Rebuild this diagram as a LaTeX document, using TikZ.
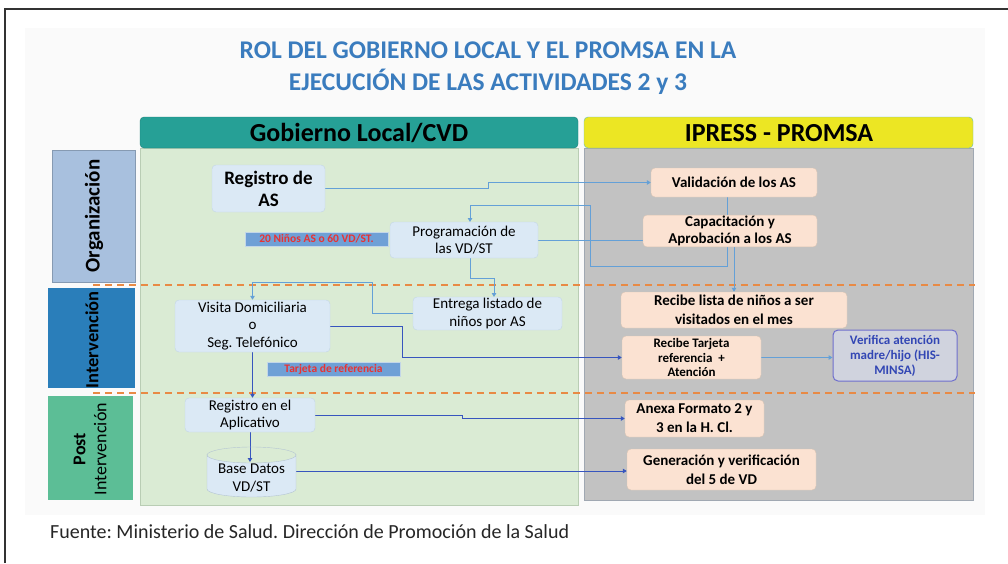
\documentclass[tikz,border=0pt]{standalone}
\usepackage{fontspec}
\setmainfont{Carlito}
\frenchspacing
\usetikzlibrary{arrows.meta,positioning}
\definecolor{tealh}{RGB}{38,160,150}
\definecolor{greenb}{RGB}{218,235,212}
\definecolor{greenbd}{RGB}{185,205,180}
\definecolor{yellowh}{RGB}{236,230,35}
\definecolor{grayb}{RGB}{194,194,194}
\definecolor{graybd}{RGB}{160,168,178}
\definecolor{lbfill}{RGB}{219,233,245}
\definecolor{lbdraw}{RGB}{195,214,232}
\definecolor{peach}{RGB}{251,226,210}
\definecolor{peachd}{RGB}{215,195,180}
\definecolor{barfill}{RGB}{111,160,214}
\definecolor{redt}{RGB}{232,50,50}
\definecolor{orgc}{RGB}{168,192,222}
\definecolor{intc}{RGB}{42,126,186}
\definecolor{postc}{RGB}{92,190,150}
\definecolor{titleb}{RGB}{58,124,190}
\definecolor{lconn}{RGB}{100,160,215}
\definecolor{dconn}{RGB}{55,85,190}
\definecolor{orangec}{RGB}{232,138,69}
\definecolor{verd}{RGB}{110,110,205}
\definecolor{vert}{RGB}{50,70,180}
\definecolor{verf}{RGB}{208,211,222}
\pgfdeclarelayer{back}
\pgfdeclarelayer{conn}
\pgfsetlayers{back,conn,main}
\tikzset{
  lbbox/.style={draw=lbdraw,fill=lbfill,rounded corners=4pt,inner sep=1pt,align=center,font=\fontsize{15}{17.5}\selectfont},
  pbox/.style={draw=peachd,fill=peach,rounded corners=4pt,inner sep=1pt,align=center,font=\bfseries\fontsize{15}{19}\selectfont},
  barlab/.style={draw=lbdraw,fill=barfill,inner sep=0pt,text=redt,font=\bfseries\fontsize{11.5}{12}\selectfont},
  lconnx/.style={draw=lconn,line width=1pt,-{Triangle[length=4pt,width=4.5pt]}},
  dconnx/.style={draw=dconn,line width=1pt,-{Triangle[length=4pt,width=4.5pt]}},
  sidelab/.style={inner sep=0pt,align=center},
  dashline/.style={draw=orangec,line width=1.6pt,dash pattern=on 7pt off 5pt}
}
\begin{document}
\begin{tikzpicture}[x=1pt,y=-1pt]
\useasboundingbox (0,0) rectangle (1008,563);
% backgrounds
\begin{pgfonlayer}{back}
\fill[white] (0,0) rectangle (1008,563);
\fill[black!2] (25,28) rectangle (985,515);
\filldraw[fill=greenb,draw=greenbd] (140,148) rectangle (578,505);
\filldraw[fill=tealh,draw=tealh!80!black,rounded corners=4pt] (140,148) -- (140,117) -- (578,117) -- (578,148) -- cycle;
\filldraw[fill=grayb,draw=graybd] (584,148) rectangle (973,500);
\filldraw[fill=yellowh,draw=tealh!70,rounded corners=4pt] (584,148) -- (584,117) -- (973,117) -- (973,148) -- cycle;
\filldraw[fill=orgc,draw=orgc!80!black] (52,150) rectangle (135,282);
\fill[intc] (48,288) rectangle (135,388);
\fill[postc] (48,396) rectangle (133,500);
\draw[dashline] (93,285) -- (975,285);
\draw[dashline] (93,393) -- (975,393);
\draw[black!80,line width=2pt] (5,563) -- (5,9) -- (1008,9);
\end{pgfonlayer}
% title
\node[font=\bfseries\fontsize{25.5}{32}\selectfont,text=titleb,align=center] (title) at (488,68) {ROL DEL GOBIERNO LOCAL Y EL PROMSA EN LA\\EJECUCIÓN DE LAS ACTIVIDADES 2 y 3};
\node[font=\bfseries\fontsize{26}{30}\selectfont] (hgob) at (359,133) {Gobierno Local/CVD};
\node[font=\bfseries\fontsize{26}{30}\selectfont] (hipr) at (779,133) {IPRESS - PROMSA};
\node[sidelab,rotate=90,font=\bfseries\fontsize{21}{24}\selectfont] (lorg) at (94,216) {Organización};
\node[sidelab,rotate=90,font=\bfseries\fontsize{18.5}{22}\selectfont] (lint) at (92,340) {Intervención};
\node[sidelab,rotate=90,font=\fontsize{18}{21}\selectfont] (lpost) at (90,449) {\textbf{Post}\\Intervención};
% left boxes
\node[lbbox,minimum width=113pt,minimum height=47pt,font=\bfseries\fontsize{19}{22}\selectfont] (reg) at (268.5,188.5) {Registro de\\AS};
\node[lbbox,minimum width=148pt,minimum height=36pt] (prog) at (464,240) {Programación de\\las VD/ST};
\node[barlab,minimum width=143pt,minimum height=14pt] (ninos) at (316.5,239) {20 Niños AS o 60 VD/ST.};
\node[lbbox,minimum width=149pt,minimum height=33pt] (entrega) at (487.5,313.5) {Entrega listado de\\niños por AS};
\node[lbbox,minimum width=155pt,minimum height=52pt] (visita) at (252.5,326) {Visita Domiciliaria\\o\\Seg. Telefónico};
\node[barlab,minimum width=133pt,minimum height=14pt] (tarjeta) at (333.5,369) {Tarjeta de referencia};
\node[lbbox,minimum width=130pt,minimum height=34pt] (regapp) at (250,415) {Registro en el\\Aplicativo};
\node[minimum width=89pt,minimum height=50pt,inner sep=0pt] (base) at (251.5,472) {};
\filldraw[fill=lbfill,draw=lbdraw!80!gray] (207,455) -- (207,489) arc[start angle=180,end angle=360,x radius=44.5pt,y radius=8pt] -- (296,455) arc[start angle=0,end angle=-180,x radius=44.5pt,y radius=8pt] -- cycle;
\draw[draw=lbdraw!80!gray] (207,455) arc[start angle=180,end angle=0,x radius=44.5pt,y radius=8pt];
\node[align=center,font=\fontsize{15}{18}\selectfont] (basetxt) at (251.5,478) {Base Datos\\VD/ST};
% right boxes
\node[pbox,minimum width=166pt,minimum height=29pt] (valid) at (734,182.5) {Validación de los AS};
\node[pbox,minimum width=174pt,minimum height=30pt,font=\bfseries\fontsize{15}{17}\selectfont] (capac) at (730,231) {Capacitación y\\Aprobación a los AS};
\node[pbox,minimum width=226pt,minimum height=36pt] (rlista) at (734,310) {Recibe lista de niños a ser\\visitados en el mes};
\node[pbox,minimum width=139pt,minimum height=43pt,font=\bfseries\fontsize{13}{14.5}\selectfont] (rtarj) at (691.5,357.5) {Recibe Tarjeta\\referencia \ +\\Atención};
\node[draw=verd,fill=verf,rounded corners=5pt,line width=1pt,align=center,text=vert,minimum width=124pt,minimum height=51pt,inner sep=1pt,font=\bfseries\fontsize{13}{15}\selectfont] (verif) at (895,355.5) {Verifica atención\\madre/hijo (HIS-\\MINSA)};
\node[pbox,minimum width=139pt,minimum height=37pt] (anexa) at (694.5,418.5) {Anexa Formato 2 y\\3 en la H. Cl.};
\node[pbox,minimum width=189pt,minimum height=41pt] (gener) at (721.5,469.5) {Generación y verificación\\del 5 de VD};
% footer
\node[anchor=west,font=\fontsize{20}{22}\selectfont,text=black!85,inner sep=0pt] (fuente) at (50,532) {Fuente: Ministerio de Salud. Dirección de Promoción de la Salud};
% connectors
\begin{pgfonlayer}{conn}
\coordinate (k1) at (488,183);
\draw[lconnx] (reg.east) -- (reg.east -| k1) |- (valid.west);
\draw[lconnx] ([xshift=-7pt]valid.south) |- (590,266) |- (470,205) -- (470,222);
\draw[lconnx] (prog.east) -| (rlista.north);
\draw[lconnx] (470,258) |- (494,278) -- (494,297);
\draw[lconnx] (entrega.west) -| (372,282) -| (visita.north);
\draw[dconnx] (visita.east) -- (402,326) |- (rtarj.west);
\draw[lconnx] (rtarj.east) -- (rtarj.east -| verif.west);
\draw[dconnx] (visita.south) -- (visita.south |- regapp.north);
\draw[dconnx] (regapp.east) -- (462,415) |- (anexa.west);
\draw[dconnx] (regapp.south) -- (250,462);
\draw[dconnx] (296,471) -- (296,471 -| gener.west);
\end{pgfonlayer}
\end{tikzpicture}
\end{document}
